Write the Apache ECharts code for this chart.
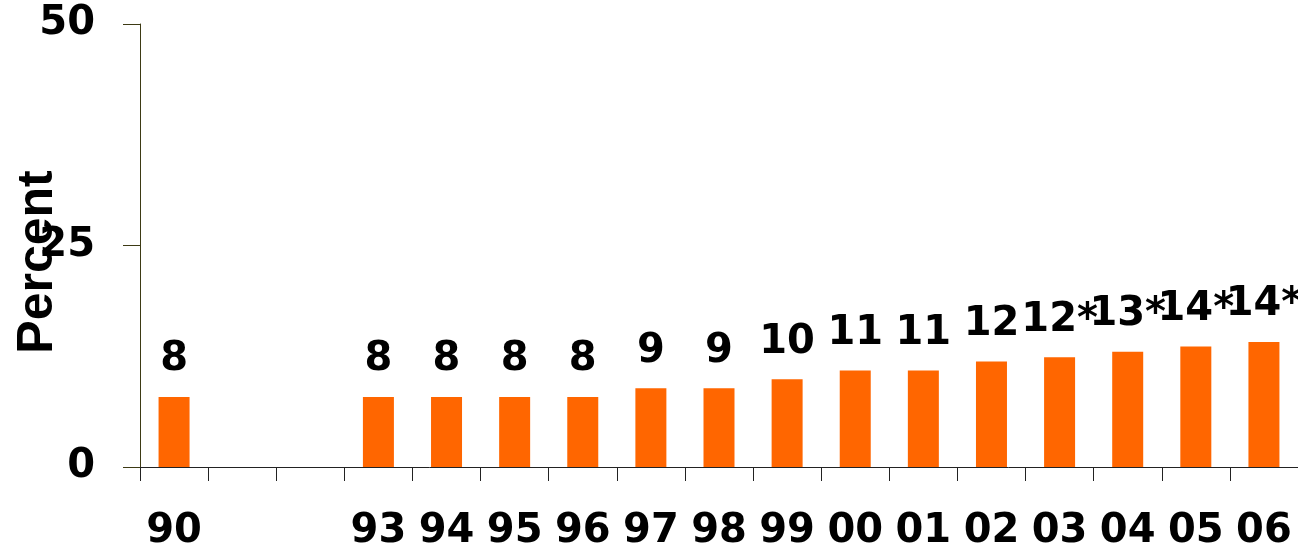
<!DOCTYPE html>
<html>
<head>
<meta charset="utf-8">
<script src="https://cdn.jsdelivr.net/npm/echarts@6/dist/echarts.min.js"></script>
<style>
  html, body { margin: 0; padding: 0; background: #fff; }
  #chart { width: 1298px; height: 552px; }
</style>
</head>
<body>
<div id="chart"></div>
<script>
// Survey years (two-digit); 91 and 92 have no data and no label
const years = ['90', '', '', '93', '94', '95', '96', '97', '98', '99', '00', '01', '02', '03', '04', '05', '06'];
// Percent per year
const percent = [7.9, null, null, 7.9, 7.9, 7.9, 7.9, 8.9, 8.9, 9.9, 10.9, 10.9, 11.9, 12.4, 13.0, 13.6, 14.1];
// Footnote marks shown after the rounded value
const marks = ['', '', '', '', '', '', '', '', '', '', '', '', '', '*', '*', '*', '*'];
// Value axis ticks
const yTicks = { min: 0, max: 50, step: 25 };

const numFont = '"DejaVu Sans", "Liberation Sans", Arial, sans-serif';
const titleFont = '"Liberation Sans", Arial, sans-serif';
const axisOlive = '#3d3a14';

const chart = echarts.init(document.getElementById('chart'));
chart.setOption({
  animation: false,
  grid: { left: 140, top: 24, width: 1159, bottom: 84 },
  xAxis: {
    type: 'category',
    data: years,
    axisLine: { show: true, lineStyle: { color: '#222', width: 1 } },
    axisTick: { show: true, length: 14, interval: 0, lineStyle: { color: '#222' } },
    axisLabel: {
      interval: 0, margin: 45, color: '#000',
      fontFamily: numFont, fontWeight: 'bold', fontSize: 40
    }
  },
  yAxis: {
    type: 'value',
    min: yTicks.min, max: yTicks.max, interval: yTicks.step,
    splitLine: { show: false },
    axisLine: { show: true, lineStyle: { color: axisOlive, width: 1 } },
    axisTick: { show: true, length: 17, lineStyle: { color: axisOlive } },
    axisLabel: {
      margin: 45, color: '#000',
      fontFamily: numFont, fontWeight: 'bold', fontSize: 40
    }
  },
  graphic: [{
    type: 'text',
    x: 38, y: 262,
    rotation: Math.PI / 2,
    style: {
      text: 'Percent',
      fill: '#000',
      font: 'bold 50px ' + titleFont,
      textAlign: 'center',
      textVerticalAlign: 'middle'
    }
  }],
  series: [{
    type: 'bar',
    data: percent,
    barWidth: 31,
    itemStyle: { color: '#FF6600' },
    label: {
      show: true,
      position: 'top',
      distance: 17,
      color: '#000',
      fontFamily: numFont, fontWeight: 'bold', fontSize: 40,
      formatter: p => Math.round(p.value) + marks[p.dataIndex]
    }
  }]
});
</script>
</body>
</html>
